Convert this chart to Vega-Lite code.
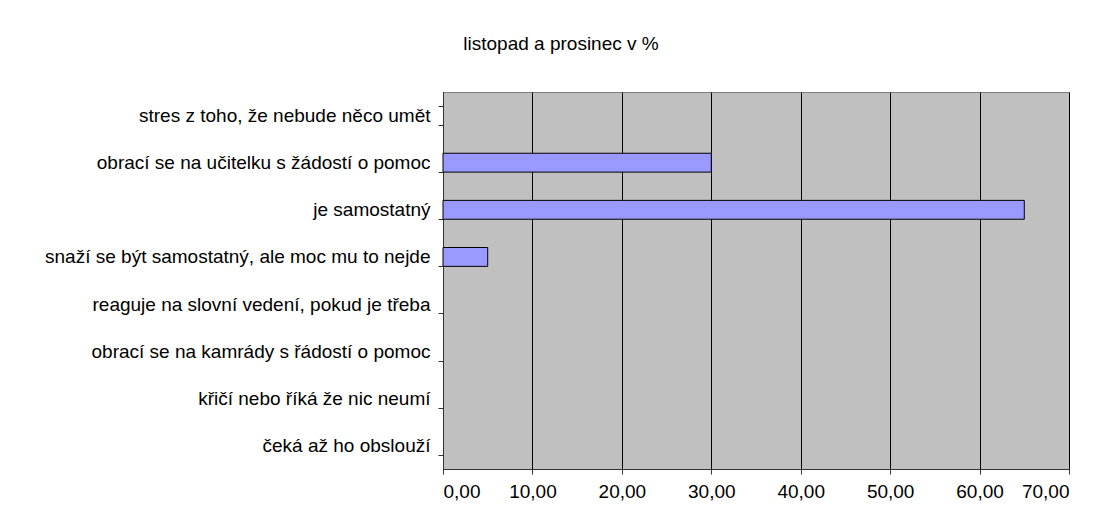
{
  "$schema": "https://vega.github.io/schema/vega-lite/v6.json",
  "width": 626,
  "height": 377,
  "autosize": "none",
  "padding": {"left": 443, "top": 92, "right": 30, "bottom": 61},
  "background": "white",
  "title": {
    "text": "listopad a prosinec v %",
    "font": "Liberation Sans",
    "fontSize": 19,
    "fontWeight": "normal",
    "color": "black",
    "anchor": "middle",
    "frame": "group",
    "dx": -195,
    "offset": 29
  },
  "config": {
    "view": {"fill": "#C0C0C0", "stroke": "#808080", "strokeWidth": 1},
    "axis": {
      "labelFont": "Liberation Sans",
      "labelFontSize": 19,
      "labelColor": "black",
      "domainColor": "#333333",
      "tickColor": "#333333",
      "tickSize": 5
    }
  },
  "data": {
    "values": [
      {"kategorie": "stres z toho, že nebude něco umět", "hodnota": 0},
      {"kategorie": "obrací se na učitelku s žádostí o pomoc", "hodnota": 30},
      {"kategorie": "je samostatný", "hodnota": 65},
      {"kategorie": "snaží se být samostatný, ale moc mu to nejde", "hodnota": 5},
      {"kategorie": "reaguje na slovní vedení, pokud je třeba", "hodnota": 0},
      {"kategorie": "obrací se na kamrády s řádostí o pomoc", "hodnota": 0},
      {"kategorie": "křičí nebo říká že nic neumí", "hodnota": 0},
      {"kategorie": "čeká až ho obslouží", "hodnota": 0}
    ]
  },
  "mark": {"type": "bar", "fill": "#9999FF", "stroke": "black"},
  "encoding": {
    "y": {
      "field": "kategorie",
      "type": "nominal",
      "sort": null,
      "scale": {"paddingInner": 0.6, "paddingOuter": 0.3},
      "axis": {
        "title": null,
        "tickBand": "extent",
        "labelPadding": 8,
        "grid": false,
        "labelLimit": 440
      }
    },
    "x": {
      "field": "hodnota",
      "type": "quantitative",
      "scale": {"domain": [0, 70], "nice": false},
      "axis": {
        "title": null,
        "values": [0, 10, 20, 30, 40, 50, 60, 70],
        "labelExpr": "replace(format(datum.value, '.2f'), '.', ',')",
        "grid": true,
        "gridColor": "black",
        "gridOpacity": 1,
        "gridWidth": 1,
        "labelPadding": 8
      }
    },
    "strokeWidth": {"condition": {"test": "datum.hodnota > 0", "value": 1}, "value": 0}
  }
}
